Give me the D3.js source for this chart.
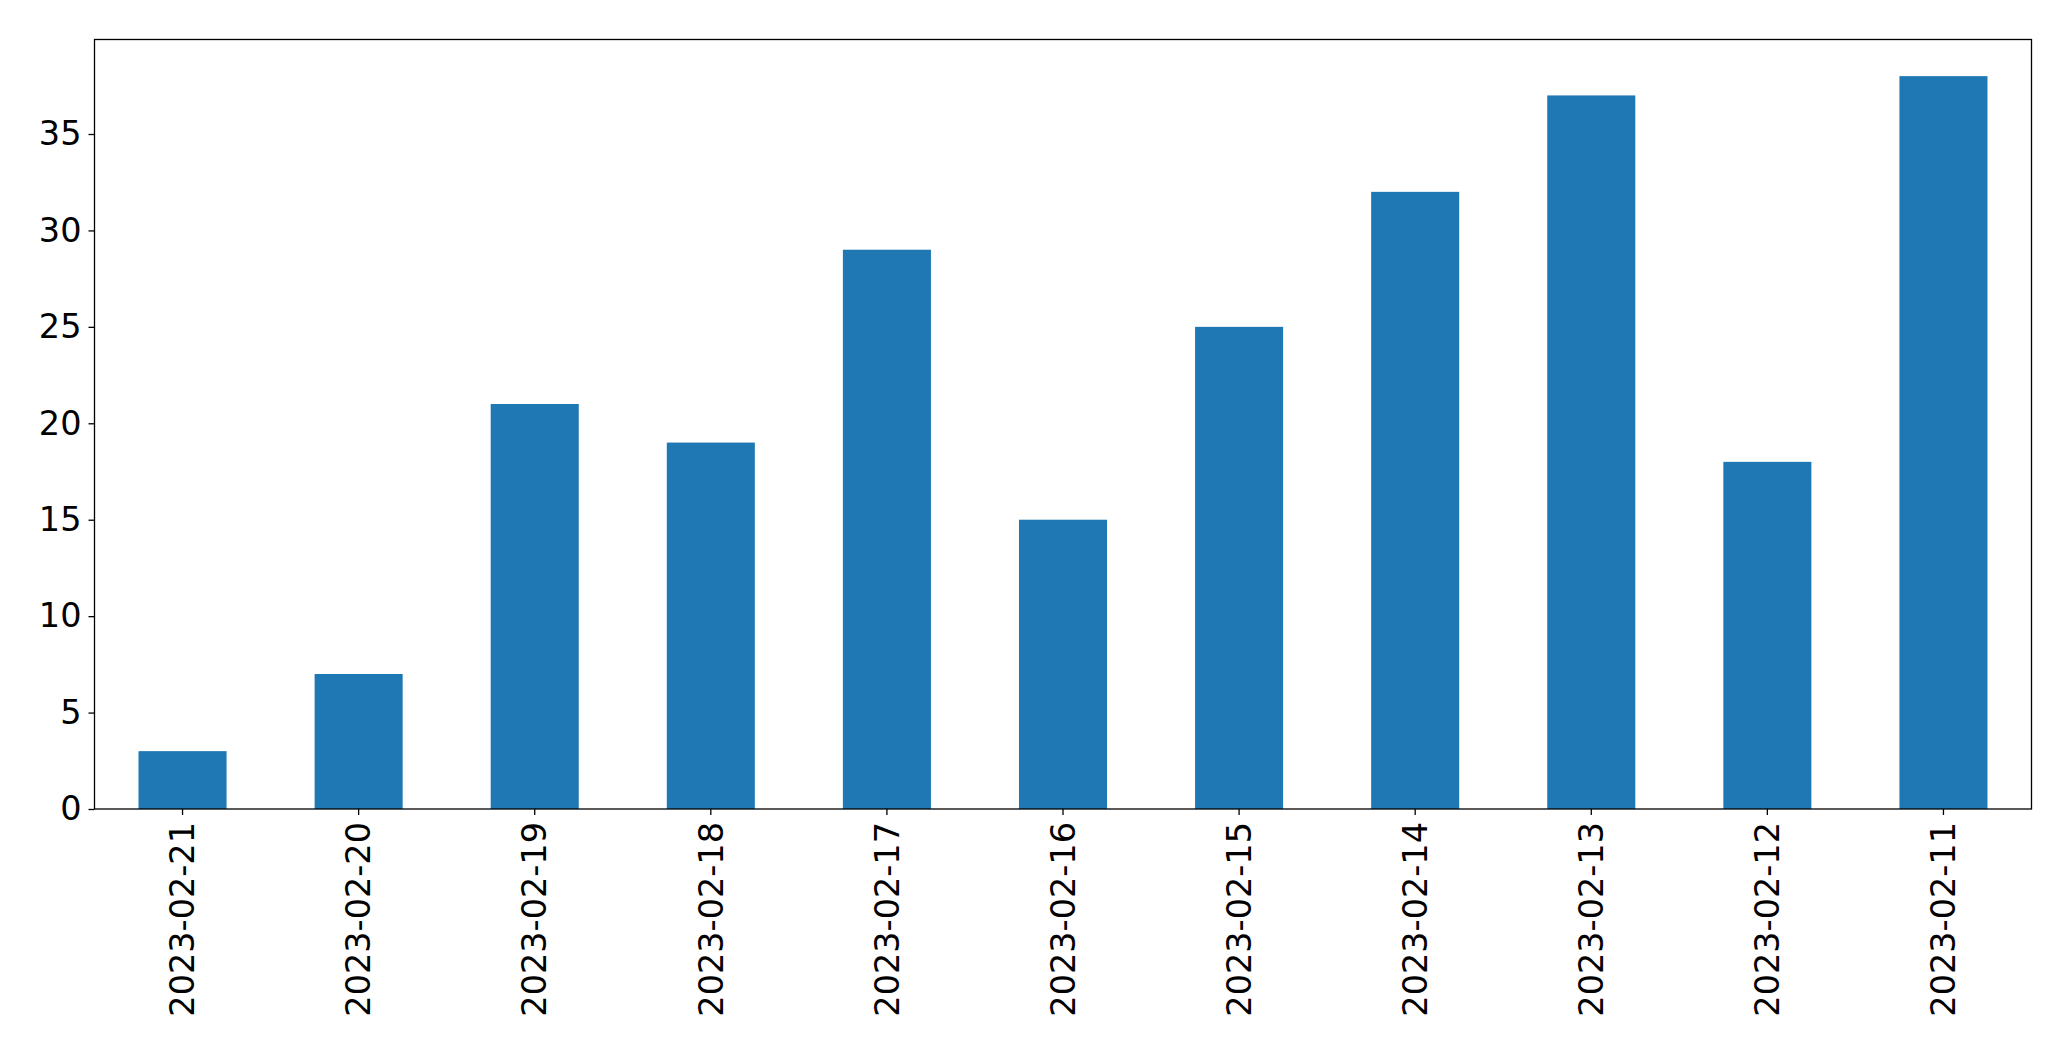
<!DOCTYPE html>
<html><head><meta charset="utf-8">
<script src="https://cdn.jsdelivr.net/npm/d3@7"></script>
<style>body{margin:0;background:#fff}svg{display:block}text{font-family:"DejaVu Sans",sans-serif}</style>
</head><body>
<script>
const categories = ["2023-02-21","2023-02-20","2023-02-19","2023-02-18","2023-02-17","2023-02-16","2023-02-15","2023-02-14","2023-02-13","2023-02-12","2023-02-11"];
const values = [3, 7, 21, 19, 29, 15, 25, 32, 37, 18, 38];
const yTicks = [0, 5, 10, 15, 20, 25, 30, 35];

const W = 2071, H = 1061;
const m = {left: 94.5, right: 2071 - 2031.5, top: 39.5, bottom: 1061 - 809};
const svg = d3.select("body").append("svg").attr("width", W).attr("height", H);

const x = d3.scaleBand().domain(categories).range([m.left, W - m.right]).paddingInner(0.5).paddingOuter(0.25);
const y = d3.scaleLinear().domain([0, d3.max(values) * 1.05]).range([H - m.bottom, m.top]);

svg.append("g").selectAll("rect").data(values).join("rect")
  .attr("x", (d, i) => x(categories[i]))
  .attr("y", d => y(d))
  .attr("width", x.bandwidth())
  .attr("height", d => y(0) - y(d))
  .attr("fill", "#1f77b4");

const fs = 33.5;
const yAxis = svg.append("g").attr("transform", `translate(${m.left},0)`)
  .call(d3.axisLeft(y).tickValues(yTicks).tickSize(6).tickPadding(7));
yAxis.select(".domain").remove();
yAxis.selectAll("text").attr("font-size", fs).attr("fill", "#000").style("font-family", "DejaVu Sans");
yAxis.selectAll("line").attr("stroke", "#000").attr("stroke-width", 1.3);

const xAxis = svg.append("g").attr("transform", `translate(0,${H - m.bottom})`)
  .call(d3.axisBottom(x).tickSize(6).tickPadding(10));
xAxis.select(".domain").remove();
xAxis.selectAll("line").attr("stroke", "#000").attr("stroke-width", 1.3);
xAxis.selectAll("text")
  .attr("font-size", fs).attr("fill", "#000").style("font-family", "DejaVu Sans")
  .attr("transform", "rotate(-90)")
  .attr("text-anchor", "end")
  .attr("x", -13).attr("y", 0).attr("dy", "0.35em");

svg.append("rect")
  .attr("x", m.left).attr("y", m.top)
  .attr("width", W - m.left - m.right).attr("height", H - m.top - m.bottom)
  .attr("fill", "none").attr("stroke", "#000").attr("stroke-width", 1.3);
</script>
</body></html>
